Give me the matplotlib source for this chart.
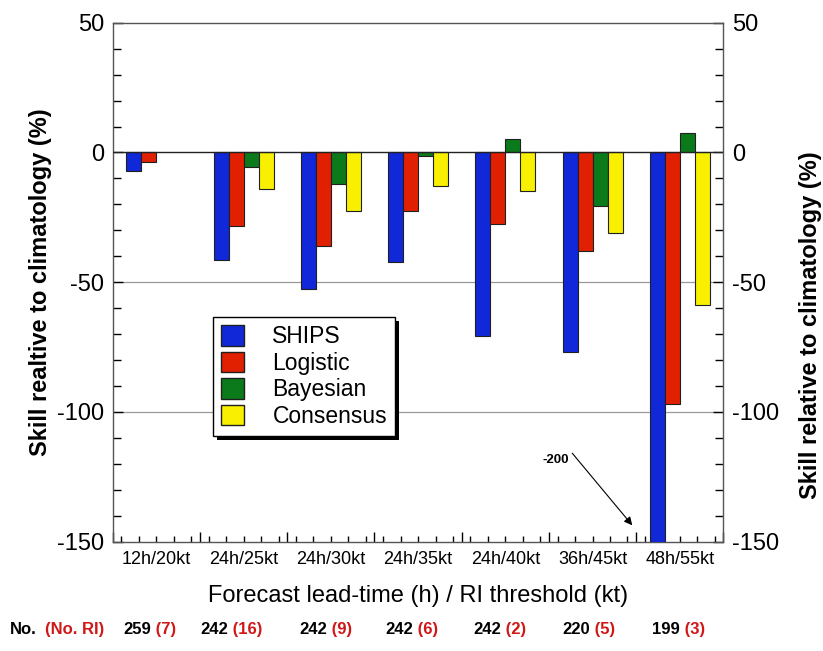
import numpy as np
import matplotlib
matplotlib.use("Agg")
import matplotlib.pyplot as plt
import matplotlib.patheffects as pe
from matplotlib.ticker import MultipleLocator, FixedLocator
from matplotlib.patches import Patch

plt.rcParams['font.family'] = ['Liberation Sans', 'DejaVu Sans']
plt.rcParams['axes.unicode_minus'] = False

# data
categories = ["12h/20kt", "24h/25kt", "24h/30kt", "24h/35kt",
              "24h/40kt", "36h/45kt", "48h/55kt"]
ships = [-7.1, -41.5, -52.5, -42.1, -70.8, -77.0, -200.0]
logistic = [-3.6, -28.3, -35.9, -22.5, -27.4, -37.8, -97.0]
bayesian = [np.nan, -5.5, -12.1, -1.5, 5.2, -20.7, 7.5]
consensus = [np.nan, -14.1, -22.6, -13.1, -15.0, -30.9, -58.8]
n_cases = ["259", "242", "242", "242", "242", "220", "199"]
n_ri = ["(7)", "(16)", "(9)", "(6)", "(2)", "(5)", "(3)"]

series = [("SHIPS", ships, "#1028d8"),
          ("Logistic", logistic, "#e02000"),
          ("Bayesian", bayesian, "#0a7a1a"),
          ("Consensus", consensus, "#f8f000")]

fig = plt.figure(figsize=(8.23, 6.51), dpi=100)
ax = fig.add_axes([0.137, 0.168, 0.742, 0.797])

x = np.arange(len(categories))
w = 0.172
for k, (name, vals, col) in enumerate(series):
    ax.bar(x + (k - 1.5) * w, vals, w, color=col, edgecolor='#202020',
           linewidth=0.8, zorder=3)

ax.set_xlim(-0.5, 6.5)
ax.set_ylim(-150, 50)

# grid lines and zero line
for yv in (-50, -100):
    ax.axhline(yv, color='#999999', lw=0.9, zorder=1)
ax.axhline(0, color='#222222', lw=1.0, zorder=4)

for sp in ax.spines.values():
    sp.set_color('#555555')
    sp.set_linewidth(1.0)

# y ticks both sides, inward
ax.yaxis.set_major_locator(FixedLocator([-150, -100, -50, 0, 50]))
ax.yaxis.set_minor_locator(MultipleLocator(10))
ax.tick_params(axis='y', which='both', direction='in', left=True, right=True,
               labelleft=True, labelright=True, labelsize=17, pad=6)
ax.tick_params(axis='y', which='major', length=7, width=1)
ax.tick_params(axis='y', which='minor', length=6, width=1)

# x ticks: boundaries major, minor every 0.2, labels at group centres
ax.xaxis.set_major_locator(FixedLocator(np.arange(-0.5, 7.0, 1.0)))
ax.xaxis.set_minor_locator(MultipleLocator(0.2))
ax.tick_params(axis='x', which='both', direction='in', top=False)
ax.tick_params(axis='x', which='major', length=7, width=1, labelbottom=False)
ax.tick_params(axis='x', which='minor', length=4, width=1)
for xi, lab in zip(x, categories):
    ax.text(xi, -0.018, lab, transform=ax.get_xaxis_transform(),
            ha='center', va='top', fontsize=13)

ax.set_xlabel("Forecast lead-time (h) / RI threshold (kt)", fontsize=17,
              labelpad=28)
ax.set_ylabel("Skill realtive to climatology (%)", fontsize=17,
              fontweight='bold', labelpad=4)
fig.text(0.985, 0.5, "Skill relative to climatology (%)", fontsize=17,
         fontweight='bold', rotation=90, ha='center', va='center')

# legend with solid black drop shadow
handles = [Patch(facecolor=c, edgecolor='#202020', label=n) for n, _, c in series]
leg = ax.legend(handles=handles, loc='upper left', bbox_to_anchor=(0.164, 0.433),
                fontsize=16.5, frameon=True, fancybox=False,
                edgecolor='black', framealpha=1, handlelength=1.0,
                handleheight=1.0, handletextpad=1.25, labelspacing=0.15,
                borderpad=0.35, borderaxespad=0)
leg.get_frame().set_linewidth(1.0)
leg.get_frame().set_path_effects([
    pe.SimplePatchShadow(offset=(3, -3), shadow_rgbFace='black', alpha=1.0),
    pe.Normal()])
leg.set_zorder(6)

# off-scale note for SHIPS at 48h
ax.text(4.58, -118.6, "-200", fontsize=9.5, fontweight='bold',
        ha='center', va='center')
ax.annotate("", xy=(5.455, -143.7), xytext=(4.767, -115.9),
            arrowprops=dict(arrowstyle='-|>', color='black', lw=0.8,
                            shrinkA=0, shrinkB=0, mutation_scale=12))

# sample counts row
ty = 0.022
fig.text(0.012, ty, "No.", fontsize=12, fontweight='bold',
         color='black', va='bottom')
fig.text(0.055, ty, "(No. RI)", fontsize=12, fontweight='bold',
         color='#d01818', va='bottom')
count_x = [0.150, 0.243, 0.364, 0.468, 0.575, 0.683, 0.792]
for cx, nc, nr in zip(count_x, n_cases, n_ri):
    t = fig.text(cx, ty, nc, fontsize=12, fontweight='bold',
                 color='black', va='bottom')
    ax.annotate(" " + nr, xy=(1, 0), xycoords=t, va='bottom',
                fontsize=12, fontweight='bold', color='#d01818',
                annotation_clip=False)

fig.savefig("out.png", dpi=100)
